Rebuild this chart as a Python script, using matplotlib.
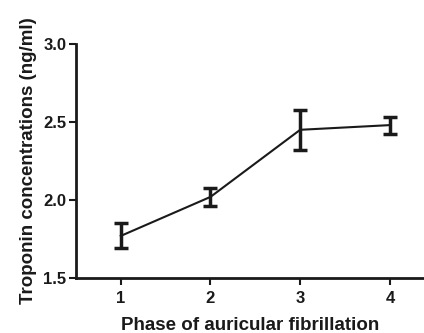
import matplotlib
matplotlib.use("Agg")
import matplotlib.pyplot as plt

phases = [1, 2, 3, 4]
means = [1.77, 2.02, 2.45, 2.48]
errors = [0.08, 0.06, 0.13, 0.055]
yticks = [1.5, 2.0, 2.5, 3.0]

plt.rcParams['font.family'] = ['Liberation Sans', 'DejaVu Sans']
plt.rcParams['font.weight'] = 'bold'

fig = plt.figure(figsize=(4.24, 3.33), dpi=100)
ax = fig.add_axes([0.179, 0.165, 0.821, 0.703])

ax.errorbar(phases, means, yerr=errors, color='#1a1a1a', linewidth=1.5,
            elinewidth=2.5, capsize=5, capthick=2.5, clip_on=False)

ax.set_xlim(0.5, 4.38)
ax.set_ylim(1.5, 3.0)
ax.set_xticks(phases)
ax.set_xticklabels([str(p) for p in phases])
ax.set_yticks(yticks)
ax.set_yticklabels([f"{v:.1f}" for v in yticks])

for s in ['top', 'right']:
    ax.spines[s].set_visible(False)
for s in ['left', 'bottom']:
    ax.spines[s].set_linewidth(2)
    ax.spines[s].set_color('#1a1a1a')

ax.tick_params(axis='both', direction='out', length=5, width=1.5,
               labelsize=12, colors='#1a1a1a', pad=2)
ax.tick_params(axis='x', pad=4)
for lbl in ax.get_xticklabels() + ax.get_yticklabels():
    lbl.set_fontweight('bold')

ax.set_xlabel('Phase of auricular fibrillation', fontsize=13.5, fontweight='bold',
              color='#1a1a1a', labelpad=8)
ax.set_ylabel('Troponin concentrations (ng/ml)', fontsize=13.5, fontweight='bold',
              color='#1a1a1a', labelpad=4)

fig.savefig('out.png', dpi=100)
